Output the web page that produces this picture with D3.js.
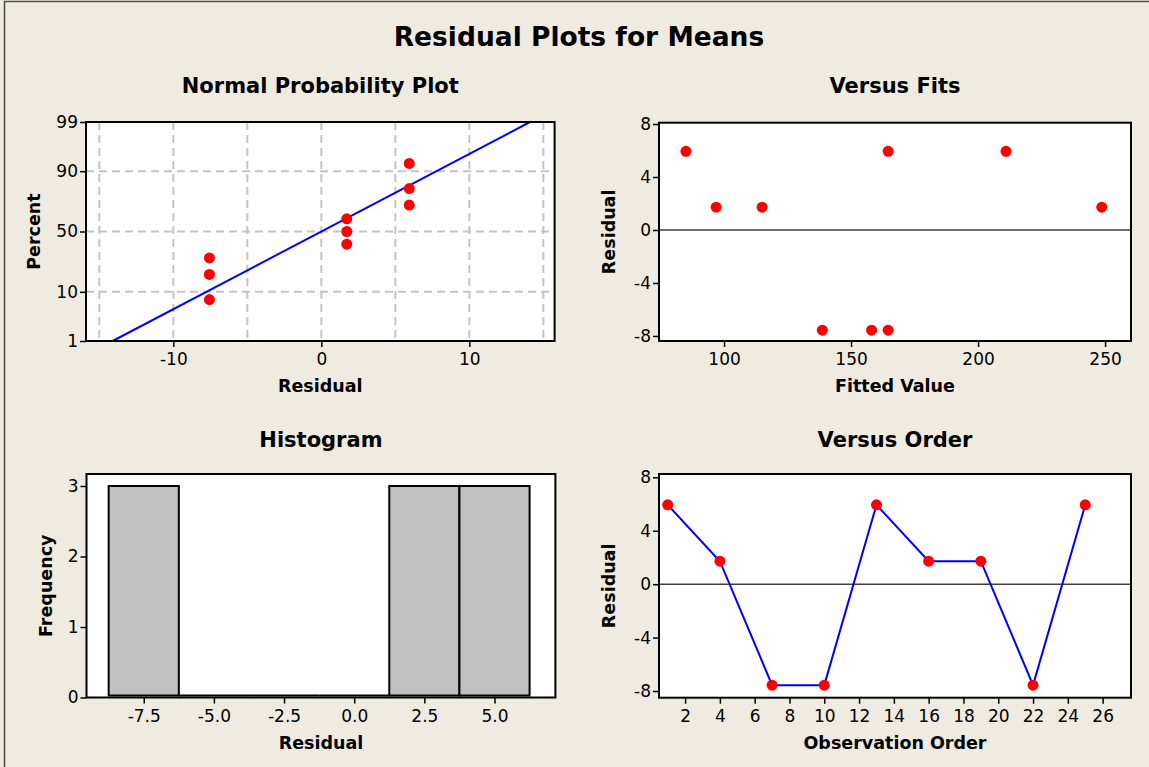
<!DOCTYPE html>
<html><head><meta charset="utf-8">
<script src="https://cdn.jsdelivr.net/npm/d3@7"></script>
<style>
html,body{margin:0;padding:0;background:#EFEBE1;}
svg{display:block;}
text{font-family:"DejaVu Sans",Verdana,sans-serif;fill:#000;}
</style></head>
<body>
<script>
// ---------- data ----------
const mainTitle = "Residual Plots for Means";
// Normal probability plot
const nppResid = [-7.56,-7.56,-7.56,1.72,1.72,1.72,5.94,5.94,5.94];
const nppPct   = [7.4,18.1,28.7,39.4,50,60.6,71.3,81.9,92.6];
const nppFitX  = [-14.1, 14.1];
const nppFitP  = [1, 99];
const nppPctTicks = [1,10,50,90,99];
const nppGridP = [10,50,90];
const nppXTicks = [-10,0,10];
const nppGridX = [-15,-10,-5,0,5,10,15];
// Versus fits
const fitted   = [85,96.9,115,138.7,158.1,164.6,164.6,211,248.7];
const fitResid = [5.94,1.72,1.72,-7.56,-7.56,-7.56,5.94,5.94,1.72];
const fitXTicks = [100,150,200,250];
const residTicks = [-8,-4,0,4,8];
// Histogram
const histMid   = [-7.5,-5.0,-2.5,0.0,2.5,5.0];
const histCount = [3,0,0,0,3,3];
const histBinW  = 2.5;
const histYTicks = [0,1,2,3];
// Versus order
const obsOrder   = [1,4,7,10,13,16,19,22,25];
const orderResid = [5.94,1.72,-7.56,-7.56,5.94,1.72,1.72,-7.56,5.94];
const orderXTicks = [2,4,6,8,10,12,14,16,18,20,22,24,26];

// inverse normal CDF (Acklam)
function probit(p){
  const a=[-3.969683028665376e+01,2.209460984245205e+02,-2.759285104469687e+02,1.383577518672690e+02,-3.066479806614716e+01,2.506628277459239e+00];
  const b=[-5.447609879822406e+01,1.615858368580409e+02,-1.556989798598866e+02,6.680131188771972e+01,-1.328068155288572e+01];
  const c=[-7.784894002430293e-03,-3.223964580411365e-01,-2.400758277161838e+00,-2.549671348283972e+00,4.374664141464968e+00,2.938163982698783e+00];
  const d=[7.784695709041462e-03,3.224671290700398e-01,2.445134137142996e+00,3.754408661907416e+00];
  const pl=0.02425, ph=1-pl; let q,r;
  if(p<pl){q=Math.sqrt(-2*Math.log(p));return (((((c[0]*q+c[1])*q+c[2])*q+c[3])*q+c[4])*q+c[5])/((((d[0]*q+d[1])*q+d[2])*q+d[3])*q+1);}
  if(p<=ph){q=p-0.5;r=q*q;return (((((a[0]*r+a[1])*r+a[2])*r+a[3])*r+a[4])*r+a[5])*q/(((((b[0]*r+b[1])*r+b[2])*r+b[3])*r+b[4])*r+1);}
  q=Math.sqrt(-2*Math.log(1-p));return -(((((c[0]*q+c[1])*q+c[2])*q+c[3])*q+c[4])*q+c[5])/((((d[0]*q+d[1])*q+d[2])*q+d[3])*q+1);
}

const loc=d3.formatLocale({decimal:".",thousands:",",grouping:[3],currency:["$",""],minus:"-"});
const fmtInt=loc.format("d"), fmt1=loc.format(".1f");

const W=1149,H=767;
const svg=d3.select("body").append("svg").attr("width",W).attr("height",H);
svg.append("rect").attr("width",W).attr("height",H).attr("fill","#EFEBE1");
svg.append("path").attr("d","M4.5,767 V1.5 H1149").attr("fill","none").attr("stroke","#505050").attr("stroke-width",1.6);

svg.append("text").attr("x",579).attr("y",46).attr("text-anchor","middle")
  .attr("font-size",26.5).attr("font-weight","bold").text(mainTitle);

const RED="#FF0000", BLUE="#0000FF";
const tickFont=17, labFont=17.5, subFont=21;

function panel(o){
  const g=svg.append("g");
  g.append("rect").attr("x",o.x0).attr("y",o.y0).attr("width",o.x1-o.x0).attr("height",o.y1-o.y0).attr("fill","#fff");
  g.append("text").attr("x",(o.x0+o.x1)/2).attr("y",o.ty).attr("text-anchor","middle")
    .attr("font-size",subFont).attr("font-weight","bold").text(o.title);
  g.append("text").attr("x",(o.x0+o.x1)/2).attr("y",o.y1+51).attr("text-anchor","middle")
    .attr("font-size",labFont).attr("font-weight","bold").text(o.xlab);
  g.append("text").attr("transform",`translate(${o.ylabX},${(o.y0+o.y1)/2}) rotate(-90)`).attr("text-anchor","middle")
    .attr("font-size",labFont).attr("font-weight","bold").text(o.ylab);
  return g;
}
function styleAxis(sel){
  sel.select(".domain").remove();
  sel.selectAll(".tick line").attr("stroke","#000").attr("stroke-width",1.5);
  sel.selectAll(".tick text").attr("font-size",tickFont).attr("fill","#000")
     .attr("font-family",'"DejaVu Sans",Verdana,sans-serif');
}
function frame(g,o){
  g.append("rect").attr("x",o.x0).attr("y",o.y0).attr("width",o.x1-o.x0).attr("height",o.y1-o.y0)
    .attr("fill","none").attr("stroke","#000").attr("stroke-width",2);
}
const xAx=(s)=>d3.axisBottom(s).tickSize(6).tickPadding(6);
const yAx=(s)=>d3.axisLeft(s).tickSize(6).tickPadding(2);

// ---------- Normal probability plot ----------
{
  const o={x0:86,x1:554.6,y0:122,y1:341,ty:93,title:"Normal Probability Plot",xlab:"Residual",ylab:"Percent",ylabX:40};
  const g=panel(o);
  const x=d3.scaleLinear().domain([-15.9,15.76]).range([o.x0,o.x1]);
  const y=d3.scaleLinear().domain([probit(0.01),probit(0.99)]).range([o.y1,o.y0]);
  const gs="#C4C4C4";
  g.selectAll(".gx").data(nppGridX).join("line").attr("x1",d=>x(d)).attr("x2",d=>x(d)).attr("y1",o.y0).attr("y2",o.y1)
    .attr("stroke",gs).attr("stroke-width",2).attr("stroke-dasharray","8,5");
  g.selectAll(".gy").data(nppGridP).join("line").attr("y1",d=>y(probit(d/100))).attr("y2",d=>y(probit(d/100))).attr("x1",o.x0).attr("x2",o.x1)
    .attr("stroke",gs).attr("stroke-width",2).attr("stroke-dasharray","8,5");
  const line=d3.line().x(d=>x(d[0])).y(d=>y(probit(d[1]/100)));
  g.append("path").datum(nppFitX.map((v,i)=>[v,nppFitP[i]])).attr("d",line).attr("fill","none").attr("stroke",BLUE).attr("stroke-width",2);
  g.selectAll(".pt").data(nppResid.map((v,i)=>[v,nppPct[i]])).join("circle")
    .attr("cx",d=>x(d[0])).attr("cy",d=>y(probit(d[1]/100))).attr("r",5.5).attr("fill",RED);
  frame(g,o);
  styleAxis(g.append("g").attr("transform",`translate(0,${o.y1})`).call(xAx(x).tickValues(nppXTicks).tickFormat(fmtInt)));
  styleAxis(g.append("g").attr("transform",`translate(${o.x0},0)`).call(yAx(y).tickValues(nppPctTicks.map(p=>probit(p/100))).tickFormat((d,i)=>nppPctTicks[i])));
}

// ---------- Versus fits ----------
{
  const o={x0:659,x1:1131,y0:122.7,y1:341,ty:93,title:"Versus Fits",xlab:"Fitted Value",ylab:"Residual",ylabX:615};
  const g=panel(o);
  const x=d3.scaleLinear().domain([74.4,260.2]).range([o.x0,o.x1]);
  const y=d3.scaleLinear().domain([-8.38,8.1]).range([o.y1,o.y0]);
  g.append("line").attr("x1",o.x0).attr("x2",o.x1).attr("y1",y(0)).attr("y2",y(0)).attr("stroke","#404040").attr("stroke-width",1.5);
  g.selectAll(".pt").data(fitted.map((v,i)=>[v,fitResid[i]])).join("circle")
    .attr("cx",d=>x(d[0])).attr("cy",d=>y(d[1])).attr("r",5.5).attr("fill",RED);
  frame(g,o);
  styleAxis(g.append("g").attr("transform",`translate(0,${o.y1})`).call(xAx(x).tickValues(fitXTicks).tickFormat(fmtInt)));
  styleAxis(g.append("g").attr("transform",`translate(${o.x0},0)`).call(yAx(y).tickValues(residTicks).tickFormat(fmtInt)));
}

// ---------- Histogram ----------
{
  const o={x0:86.5,x1:555.4,y0:474,y1:697.5,ty:447,title:"Histogram",xlab:"Residual",ylab:"Frequency",ylabX:52};
  const g=panel(o);
  const x=d3.scaleLinear().domain([-9.54,7.17]).range([o.x0,o.x1]);
  const y=d3.scaleLinear().domain([0,3.17]).range([o.y1,o.y0]);
  frame(g,o);
  g.selectAll(".bar").data(histMid.map((m,i)=>({m,c:histCount[i]}))).join("path")
    .attr("d",d=>{const x0=x(d.m-histBinW/2),x1=x(d.m+histBinW/2),yb=y(0)-2,yt=Math.min(y(d.c),yb);
      return `M${x0},${yb}V${yt}H${x1}V${yb}Z`;})
    .attr("fill","#C0C0C0").attr("stroke","#000").attr("stroke-width",2);
  styleAxis(g.append("g").attr("transform",`translate(0,${o.y1})`).call(xAx(x).tickValues(histMid).tickFormat(fmt1)));
  styleAxis(g.append("g").attr("transform",`translate(${o.x0},0)`).call(yAx(y).tickValues(histYTicks).tickFormat(fmtInt)));
}

// ---------- Versus order ----------
{
  const o={x0:659,x1:1131,y0:474,y1:697.7,ty:447,title:"Versus Order",xlab:"Observation Order",ylab:"Residual",ylabX:615};
  const g=panel(o);
  const x=d3.scaleLinear().domain([0.5,27.63]).range([o.x0,o.x1]);
  const y=d3.scaleLinear().domain([-8.5,8.25]).range([o.y1,o.y0]);
  g.append("line").attr("x1",o.x0).attr("x2",o.x1).attr("y1",y(0)).attr("y2",y(0)).attr("stroke","#404040").attr("stroke-width",1.5);
  const pts=obsOrder.map((v,i)=>[v,orderResid[i]]);
  g.append("path").datum(pts).attr("d",d3.line().x(d=>x(d[0])).y(d=>y(d[1]))).attr("fill","none").attr("stroke",BLUE).attr("stroke-width",2);
  g.selectAll(".pt").data(pts).join("circle").attr("cx",d=>x(d[0])).attr("cy",d=>y(d[1])).attr("r",5.5).attr("fill",RED);
  frame(g,o);
  styleAxis(g.append("g").attr("transform",`translate(0,${o.y1})`).call(xAx(x).tickValues(orderXTicks).tickFormat(fmtInt)));
  styleAxis(g.append("g").attr("transform",`translate(${o.x0},0)`).call(yAx(y).tickValues(residTicks).tickFormat(fmtInt)));
}
</script>
</body></html>
